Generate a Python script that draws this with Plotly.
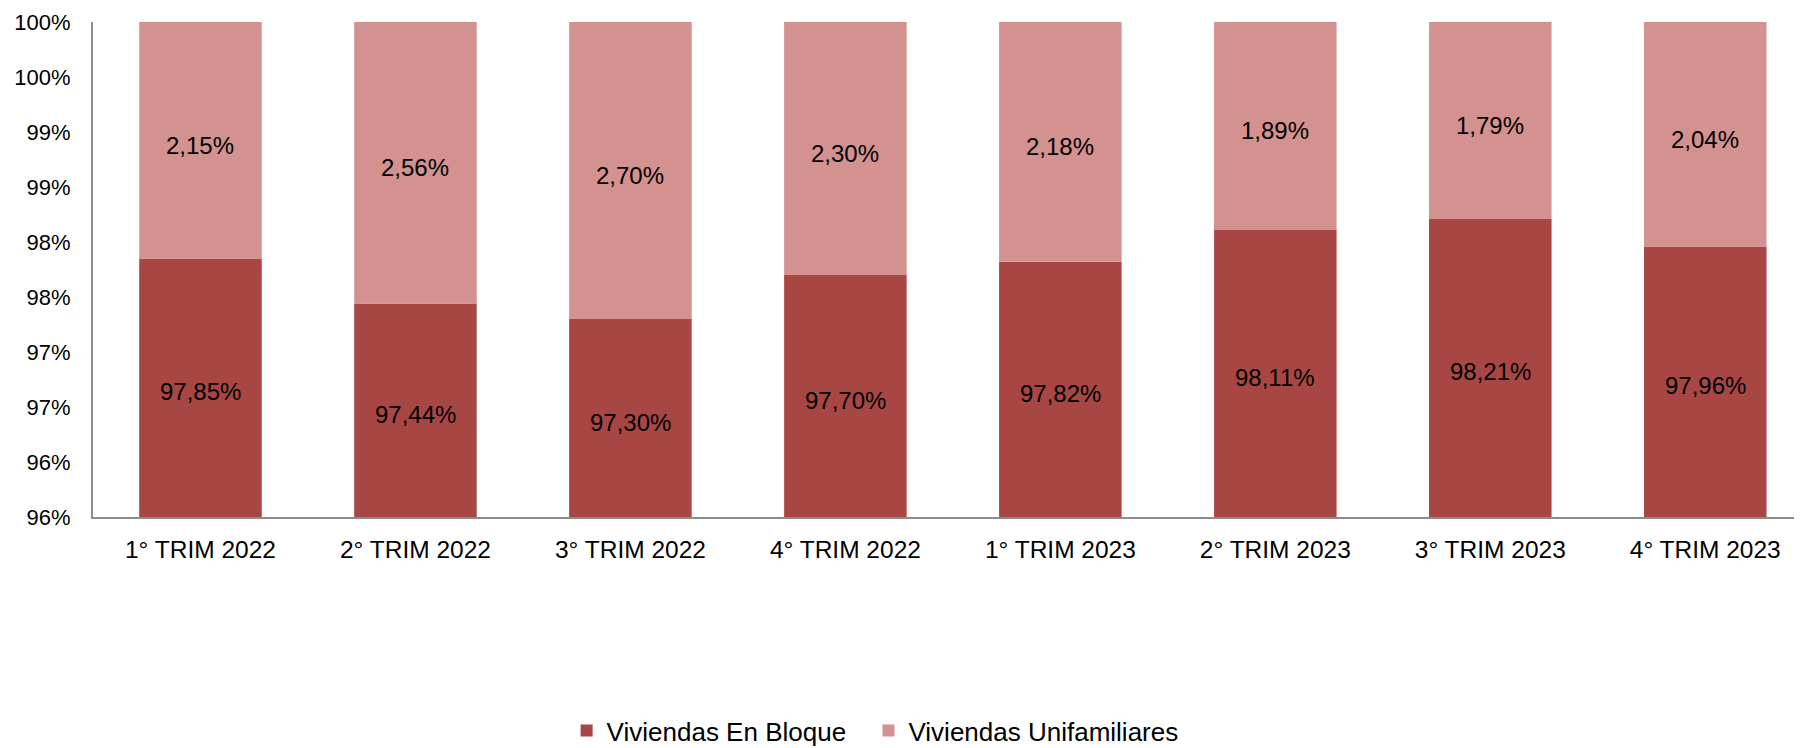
import plotly.graph_objects as go

# ---- data ----
CATEGORIES = ["1° TRIM 2022", "2° TRIM 2022", "3° TRIM 2022", "4° TRIM 2022",
              "1° TRIM 2023", "2° TRIM 2023", "3° TRIM 2023", "4° TRIM 2023"]
BLOQUE = [97.85, 97.44, 97.30, 97.70, 97.82, 98.11, 98.21, 97.96]
UNIFAMILIARES = [2.15, 2.56, 2.70, 2.30, 2.18, 1.89, 1.79, 2.04]
Y_TICKVALS = [95.5, 96.0, 96.5, 97.0, 97.5, 98.0, 98.5, 99.0, 99.5, 100.0]
Y_TICKTEXT = ["96%", "96%", "97%", "97%", "98%", "98%", "99%", "99%", "100%", "100%"]

# ---- style ----
COLOR_BLOQUE = "#A84644"
COLOR_UNI = "#D39190"
COLOR_AXIS = "#8C8C8C"
COLOR_TEXT = "#000000"
FONT = "Liberation Sans, Arial, sans-serif"
Y_MIN, Y_MAX = 95.5, 100.0


def fmt(v):
    return f"{v:.2f}".replace(".", ",") + "%"


def legend_box(x):
    return dict(
        orientation="h", xref="container", yref="container",
        x=x, xanchor="left", y=0.034, yanchor="middle",
        font=dict(family=FONT, size=26, color=COLOR_TEXT),
        bgcolor="rgba(0,0,0,0)",
    )


fig = go.Figure()
fig.add_trace(go.Bar(
    x=CATEGORIES, y=BLOQUE, name="Viviendas En Bloque", legend="legend",
    marker=dict(color=COLOR_BLOQUE, line=dict(width=0)),
))
fig.add_trace(go.Bar(
    x=CATEGORIES, y=UNIFAMILIARES, base=BLOQUE, name="Viviendas Unifamiliares",
    legend="legend2",
    marker=dict(color=COLOR_UNI, line=dict(width=0)),
))

# labels centred in the visible part of each segment
for cat, b, u in zip(CATEGORIES, BLOQUE, UNIFAMILIARES):
    fig.add_annotation(
        x=cat, y=(Y_MIN + b) / 2, text=fmt(b), showarrow=False, yshift=-4,
        font=dict(family=FONT, size=24, color=COLOR_TEXT),
    )
    fig.add_annotation(
        x=cat, y=b + u / 2, text=fmt(u), showarrow=False, yshift=-5,
        font=dict(family=FONT, size=24, color=COLOR_TEXT),
    )

# page body adds an 8px offset, margins compensate for it
fig.update_layout(
    width=1802, height=748,
    margin=dict(l=85, r=8, t=14, b=239),
    paper_bgcolor="white", plot_bgcolor="white",
    barmode="overlay", bargap=0.43,
    font=dict(family=FONT, size=22, color=COLOR_TEXT),
    xaxis=dict(
        range=[-0.5, 7.45], showgrid=False, zeroline=False, automargin=False,
        showline=True, linecolor=COLOR_AXIS, linewidth=2,
        ticks="", ticklabelstandoff=10,
        tickfont=dict(family=FONT, size=24.5, color=COLOR_TEXT),
    ),
    yaxis=dict(
        range=[Y_MIN, Y_MAX], showgrid=False, zeroline=False, automargin=False,
        showline=True, linecolor=COLOR_AXIS, linewidth=2,
        tickvals=Y_TICKVALS, ticktext=Y_TICKTEXT,
        ticks="", ticklabelstandoff=16,
        tickfont=dict(family=FONT, size=22, color=COLOR_TEXT),
    ),
    showlegend=True,
    legend=legend_box(0.310),
    legend2=legend_box(0.4775),
)

fig.write_html("out.html")
